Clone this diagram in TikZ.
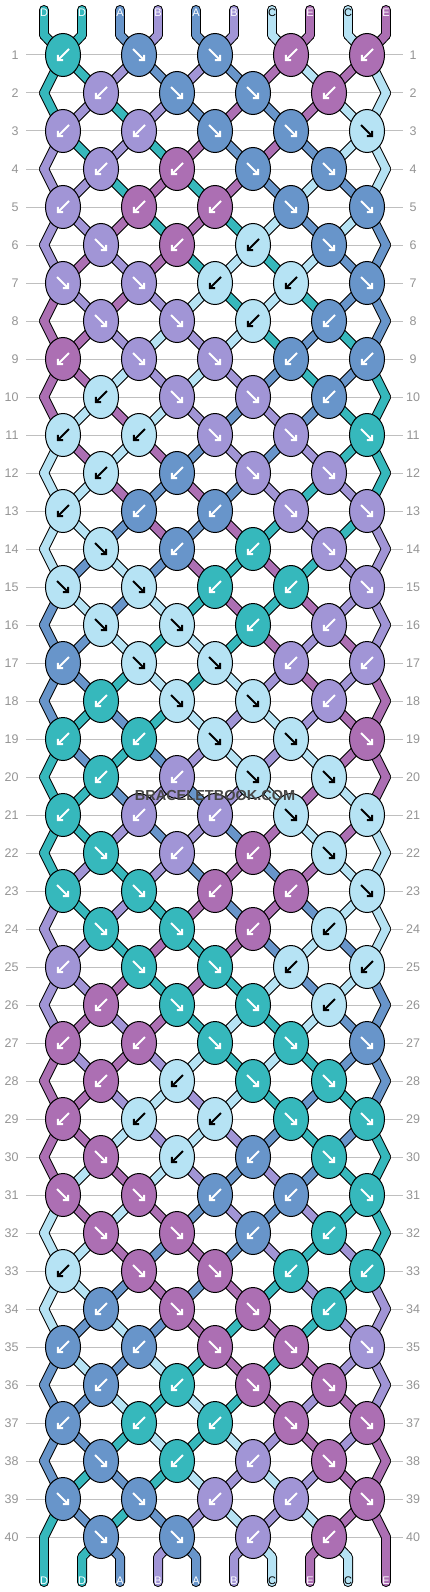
\documentclass[tikz,border=0pt]{standalone}
\usepackage{fontspec}
\setmainfont{Liberation Sans}
\usetikzlibrary{arrows.meta,shapes.geometric}

\definecolor{colD}{HTML}{36B8BC}
\definecolor{colA}{HTML}{6895CA}
\definecolor{colB}{HTML}{A195D6}
\definecolor{colC}{HTML}{B6E3F4}
\definecolor{colE}{HTML}{AC6FB3}
\colorlet{arrD}{white}
\colorlet{arrA}{white}
\colorlet{arrB}{white}
\colorlet{arrC}{black}
\colorlet{arrE}{white}

\pgfdeclarelayer{grid}
\pgfdeclarelayer{outline}
\pgfdeclarelayer{strand}
\pgfsetlayers{grid,outline,strand,main}

% knot directions (L = to the left, R = to the right), 8 rows repeat
\expandafter\def\csname pat1\endcsname{L,R,R,L,L}
\expandafter\def\csname pat2\endcsname{L,R,R,L}
\expandafter\def\csname pat3\endcsname{L,L,R,R,R}
\expandafter\def\csname pat4\endcsname{L,L,R,R}
\expandafter\def\csname pat5\endcsname{L,L,L,R,R}
\expandafter\def\csname pat6\endcsname{R,L,L,R}
\expandafter\def\csname pat7\endcsname{R,R,L,L,R}
\expandafter\def\csname pat8\endcsname{R,R,L,L}

\begin{document}
\begin{tikzpicture}[x=1pt,y=-1pt,
  knot/.style={ellipse,draw=black,line width=1pt,minimum width=35,minimum height=43,inner sep=0pt},
  cord/.style={line width=8pt,line cap=round,line join=round},
  cordedge/.style={draw=black,line width=10pt,line cap=round,line join=round},
  arr/.style={line width=2pt,-{Straight Barb[length=3.5pt,width=7.5pt]}},
  rowline/.style={draw=black!25,line width=1pt},
  rownum/.style={text=black!42,font=\fontsize{12.5}{12.5}\selectfont},
  strandname/.style={font=\fontsize{11}{11}\selectfont,inner sep=0pt}]
\useasboundingbox (0,0) rectangle (430,1592);

% row lines and numbers
\begin{pgfonlayer}{grid}
  \foreach \rw in {1,...,40}{
    \pgfmathtruncatemacro{\y}{55+38*(\rw-1)}
    \draw[rowline] (26,\y) -- (403,\y);
  }
\end{pgfonlayer}
\foreach \rw in {1,...,40}{
  \pgfmathtruncatemacro{\y}{55+38*(\rw-1)}
  \node[rownum,anchor=east] (nl-\rw) at (22,\y) {\rw};
  \node[rownum] (nr-\rw) at (413,\y) {\rw};
}

% strings at the top
\foreach \nm [count=\ps] in {D,D,A,B,A,B,C,E,C,E}{
  \pgfmathtruncatemacro{\x}{44+38*(\ps-1)}
  \expandafter\xdef\csname st\ps\endcsname{\nm}
  \coordinate (top-\ps) at (\x,10);
  \coordinate (v-0-\ps) at (\x,35);
  \coordinate (v-41-\ps) at (\x,1557);
  \coordinate (bot-\ps) at (\x,1582);
}
\begin{pgfonlayer}{outline}
  \foreach \ps in {1,...,10}
    \draw[cordedge] (top-\ps) -- (v-0-\ps);
\end{pgfonlayer}
\begin{pgfonlayer}{strand}
  \foreach \ps in {1,...,10}{
    \edef\sc{\csname st\ps\endcsname}
    \draw[cord,draw=col\sc] (top-\ps) -- (v-0-\ps);
  }
\end{pgfonlayer}
\foreach \ps in {1,...,10}{
  \edef\sc{\csname st\ps\endcsname}
  \node[strandname,text=arr\sc] (tn-\ps) at ([yshift=-3pt]top-\ps) {\sc};
}

\foreach \rw in {1,...,40}{
  \pgfmathtruncatemacro{\rp}{\rw-1}
  \pgfmathtruncatemacro{\m}{mod(\rw-1,8)+1}
  \pgfmathtruncatemacro{\odd}{mod(\rw,2)}
  \pgfmathtruncatemacro{\y}{55+38*(\rw-1)}
  \edef\dirs{\csname pat\m\endcsname}
  % knots of this row
  \foreach \dr [count=\kj] in \dirs {
    \pgfmathtruncatemacro{\pa}{2*\kj-\odd}
    \pgfmathtruncatemacro{\pb}{\pa+1}
    \pgfmathtruncatemacro{\x}{63+76*(\kj-1)+38*(1-\odd)}
    \if L\dr \edef\kc{\csname st\pb\endcsname}\else \edef\kc{\csname st\pa\endcsname}\fi
    \node[knot,fill=col\kc] (k-\rw-\kj) at (\x,\y) {};
    \coordinate (v-\rw-\pa) at (k-\rw-\kj.center);
    \coordinate (v-\rw-\pb) at (k-\rw-\kj.center);
    \if L\dr
      \draw[arr,draw=arr\kc] ([shift={(6,-6)}]k-\rw-\kj.center) -- ([shift={(-6,6)}]k-\rw-\kj.center);
    \else
      \draw[arr,draw=arr\kc] ([shift={(-6,-6)}]k-\rw-\kj.center) -- ([shift={(6,6)}]k-\rw-\kj.center);
    \fi
  }
  \ifnum\odd=0
    \coordinate (v-\rw-1) at (44,\y);
    \coordinate (v-\rw-10) at (386,\y);
  \fi
  % cords from the row above
  \begin{pgfonlayer}{outline}
    \foreach \ps in {1,...,10}
      \draw[cordedge] (v-\rp-\ps) -- (v-\rw-\ps);
  \end{pgfonlayer}
  \begin{pgfonlayer}{strand}
    \foreach \ps in {1,...,10}{
      \edef\sc{\csname st\ps\endcsname}
      \draw[cord,draw=col\sc] (v-\rp-\ps) -- (v-\rw-\ps);
    }
  \end{pgfonlayer}
  % every knot swaps its two strings
  \foreach \dr [count=\kj] in \dirs {
    \pgfmathtruncatemacro{\pa}{2*\kj-\odd}
    \pgfmathtruncatemacro{\pb}{\pa+1}
    \edef\tmp{\csname st\pa\endcsname}
    \expandafter\xdef\csname st\pa\endcsname{\csname st\pb\endcsname}
    \expandafter\xdef\csname st\pb\endcsname{\tmp}
  }
}

% strings at the bottom
\begin{pgfonlayer}{outline}
  \foreach \ps in {1,...,10}
    \draw[cordedge] (v-40-\ps) -- (v-41-\ps) -- (bot-\ps);
\end{pgfonlayer}
\begin{pgfonlayer}{strand}
  \foreach \ps in {1,...,10}{
    \edef\sc{\csname st\ps\endcsname}
    \draw[cord,draw=col\sc] (v-40-\ps) -- (v-41-\ps) -- (bot-\ps);
  }
\end{pgfonlayer}
\foreach \ps in {1,...,10}{
  \edef\sc{\csname st\ps\endcsname}
  \node[strandname,text=arr\sc] (bn-\ps) at ([yshift=1pt]bot-\ps) {\sc};
}

\node[font=\bfseries\fontsize{14.5}{14.5}\selectfont,text=black!72] (mark) at (215,795) {BRACELETBOOK.COM};
\end{tikzpicture}
\end{document}
